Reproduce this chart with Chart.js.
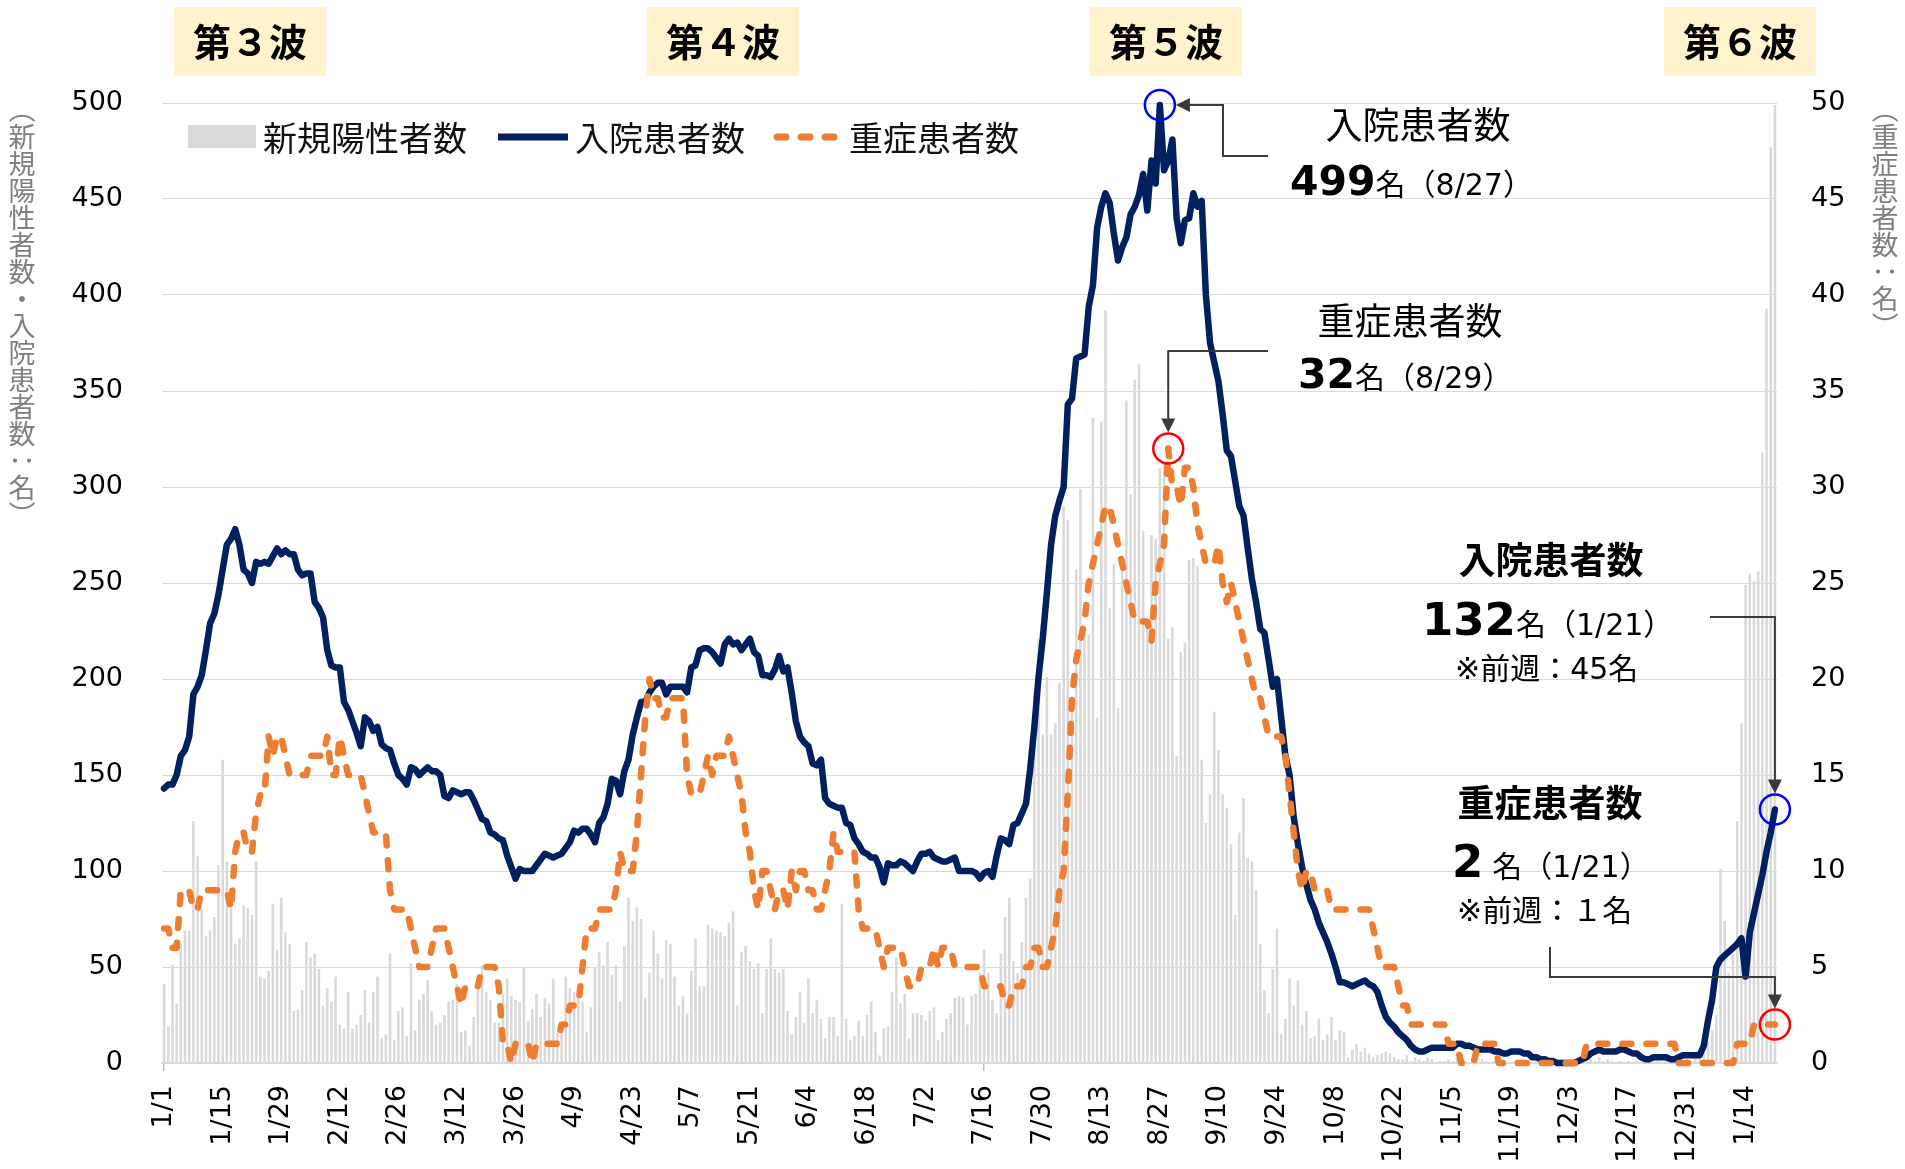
<!DOCTYPE html>
<html lang="ja">
<head>
<meta charset="utf-8">
<title>新規陽性者数・入院患者数・重症患者数</title>
<script src="https://cdn.jsdelivr.net/npm/chart.js@4.4.1/dist/chart.umd.min.js"></script>
<style>
  html, body { margin: 0; padding: 0; background: #fff; }
  #wrap { width: 1905px; height: 1169px; }
</style>
</head>
<body>
<div id="wrap"><canvas id="chart" width="1905" height="1169"></canvas></div>
<script>
// ---------------------------------
//  Datos (1 valor por día, desde 2021/1/1 hasta 2022/1/21)
// ---------------------------------
const startYear = 2021;
const tickEvery = 14;

// 新規陽性者数 (barras, eje izquierdo)
const newPositive = [
  41, 19, 51, 31, 62, 69, 69, 126, 108, 81,
  66, 69, 76, 103, 158, 105, 81, 62, 65, 82,
  81, 77, 105, 45, 44, 48, 83, 59, 86, 68,
  62, 27, 28, 38, 63, 55, 57, 49, 30, 39,
  32, 45, 20, 18, 37, 18, 20, 25, 38, 21,
  37, 45, 13, 15, 57, 12, 27, 29, 14, 52,
  17, 33, 36, 43, 27, 20, 21, 25, 32, 33,
  41, 16, 17, 9, 24, 42, 51, 37, 33, 21,
  21, 36, 44, 35, 33, 32, 50, 22, 28, 36,
  24, 34, 31, 44, 16, 18, 45, 39, 37, 38,
  32, 16, 29, 50, 58, 51, 63, 46, 51, 32,
  61, 86, 74, 81, 75, 34, 47, 69, 57, 44,
  64, 62, 45, 30, 35, 26, 48, 65, 40, 40,
  72, 70, 69, 68, 66, 73, 79, 30, 58, 61,
  53, 49, 52, 26, 49, 65, 49, 47, 49, 27,
  15, 24, 37, 21, 44, 26, 33, 23, 13, 24,
  24, 14, 83, 23, 12, 14, 22, 14, 25, 32,
  16, 4, 18, 19, 37, 55, 31, 36, 13, 26,
  26, 25, 22, 27, 29, 12, 16, 23, 26, 34,
  35, 34, 20, 35, 36, 47, 59, 47, 33, 26,
  57, 76, 86, 53, 47, 63, 86, 96, 193, 221,
  171, 201, 171, 177, 198, 290, 283, 184, 257, 299,
  224, 223, 336, 180, 334, 392, 237, 260, 185, 260,
  345, 296, 356, 364, 277, 231, 275, 273, 310, 313,
  221, 227, 160, 214, 219, 262, 263, 259, 158, 125,
  140, 183, 163, 140, 133, 114, 77, 120, 138, 107,
  105, 90, 62, 38, 26, 49, 70, 15, 23, 44,
  30, 43, 20, 27, 13, 14, 23, 12, 15, 24,
  12, 17, 16, 3, 7, 10, 6, 8, 5, 3,
  4, 5, 6, 5, 3, 2, 2, 4, 1, 3,
  2, 1, 3, 2, 0, 1, 1, 2, 1, 3,
  2, 1, 0, 1, 0, 2, 1, 0, 1, 0,
  1, 0, 0, 1, 0, 1, 0, 0, 1, 0,
  0, 0, 1, 0, 0, 0, 0, 1, 0, 0,
  1, 2, 1, 3, 1, 2, 1, 0, 1, 0,
  1, 0, 1, 0, 2, 1, 0, 1, 0, 1,
  0, 1, 1, 0, 2, 1, 3, 4, 8, 11,
  17, 25, 101, 74, 47, 57, 126, 177, 249, 255,
  251, 256, 318, 393, 477, 499
];

// 入院患者数 (línea azul, eje izquierdo)
const hospitalized = [
  143, 145, 145, 150, 160, 163, 170, 192, 196, 202,
  215, 229, 234, 244, 257, 270, 273, 278, 270, 257,
  255, 250, 261, 260, 261, 260, 264, 268, 265, 267,
  265, 265, 257, 254, 255, 255, 240, 237, 232, 215,
  207, 206, 206, 188, 184, 178, 172, 165, 180, 178,
  173, 175, 166, 164, 163, 156, 150, 148, 145, 154,
  153, 150, 152, 154, 152, 152, 150, 139, 138, 142,
  141, 140, 141, 141, 137, 132, 127, 126, 120, 119,
  117, 116, 108, 102, 96, 101, 100, 100, 100, 103,
  106, 109, 108, 107, 108, 109, 112, 115, 121, 120,
  122, 122, 119, 115, 125, 128, 135, 148, 147, 140,
  152, 158, 171, 180, 188, 188, 193, 196, 198, 198,
  192, 196, 196, 196, 196, 193, 206, 207, 215, 216,
  216, 214, 211, 208, 218, 221, 218, 219, 215, 218,
  221, 214, 212, 202, 202, 201, 205, 212, 204, 206,
  193, 178, 170, 167, 165, 156, 155, 158, 138, 135,
  134, 133, 133, 125, 124, 117, 114, 110, 109, 107,
  107, 102, 94, 104, 103, 103, 105, 104, 102, 100,
  105, 109, 109, 110, 107, 106, 105, 105, 106, 107,
  100, 100, 100, 100, 99, 96, 99, 100, 97, 108,
  117, 116, 114, 124, 125, 130, 135, 153, 175, 201,
  221, 245, 270, 285, 293, 300, 343, 346, 367, 368,
  369, 394, 405, 435, 446, 453, 448, 432, 418, 425,
  430, 442, 446, 452, 463, 444, 470, 458, 499, 465,
  470, 481, 440, 427, 439, 440, 453, 446, 449, 400,
  375, 365, 355, 338, 319, 316, 303, 290, 285, 268,
  252, 240, 226, 224, 210, 196, 200, 180, 160, 150,
  128, 114, 102, 93, 85, 80, 73, 68, 63, 57,
  50, 42, 42, 41, 40, 41, 42, 43, 41, 40,
  37, 30, 24, 21, 19, 16, 14, 12, 9, 7,
  6, 6, 7, 8, 8, 8, 8, 8, 8, 10,
  10, 9, 9, 8, 7, 7, 7, 7, 6, 6,
  5, 5, 6, 6, 6, 5, 5, 3, 3, 2,
  2, 1, 1, 0, 0, 0, 0, 0, 1, 2,
  3, 5, 6, 7, 6, 6, 6, 6, 7, 7,
  6, 5, 5, 3, 2, 2, 3, 3, 3, 3,
  2, 2, 3, 4, 4, 4, 4, 4, 9, 22,
  33, 50, 54, 56, 58, 60, 62, 65, 45, 68,
  78, 88, 98, 110, 120, 132
];

// 重症患者数 (línea naranja punteada, eje derecho)
const severe = [
  7, 7, 6, 6, 9, 9, 9, 8, 8, 9,
  9, 9, 9, 9, 9, 9, 8, 11, 12, 12,
  11, 11, 13, 14, 14, 17, 16, 17, 17, 16,
  15, 15, 15, 15, 15, 16, 16, 16, 16, 17,
  15, 15, 17, 16, 15, 15, 15, 15, 14, 13,
  12, 12, 12, 12, 9, 8, 8, 8, 8, 7,
  6, 5, 5, 5, 6, 7, 7, 7, 6, 5,
  4, 3, 4, 4, 4, 4, 5, 5, 5, 5,
  4, 1, 1, 0, 1, 1, 1, 1, 0, 1,
  1, 1, 1, 1, 1, 2, 2, 3, 3, 3,
  5, 7, 7, 7, 8, 8, 8, 8, 9, 11,
  10, 10, 10, 12, 15, 18, 20, 19, 19, 18,
  18, 19, 19, 19, 19, 15, 14, 14, 14, 15,
  16, 15, 16, 16, 16, 17, 16, 15, 14, 12,
  11, 9, 8, 10, 10, 9, 8, 9, 9, 8,
  10, 9, 10, 10, 9, 9, 8, 8, 9, 10,
  12, 11, 11, 11, 11, 11, 8, 7, 7, 7,
  7, 6, 5, 6, 6, 6, 6, 5, 4, 4,
  4, 5, 5, 5, 6, 5, 6, 6, 6, 5,
  5, 5, 5, 5, 5, 5, 4, 4, 4, 4,
  4, 3, 3, 4, 4, 4, 5, 5, 6, 6,
  5, 5, 6, 7, 9, 10, 14, 19, 21, 22,
  23, 25, 26, 27, 28, 29, 29, 28, 27, 26,
  25, 24, 23, 23, 23, 23, 22, 25, 26, 27,
  32, 30, 30, 29, 31, 31, 30, 28, 27, 26,
  26, 26, 27, 25, 24, 25, 24, 23, 22, 21,
  20, 19, 19, 18, 17, 17, 17, 17, 16, 14,
  12, 10, 9, 10, 10, 9, 9, 9, 9, 8,
  8, 8, 8, 8, 8, 8, 8, 8, 8, 7,
  6, 5, 5, 5, 5, 4, 3, 3, 2, 2,
  2, 2, 2, 2, 2, 2, 2, 1, 1, 1,
  0, 0, 0, 0, 1, 1, 1, 1, 1, 0,
  0, 0, 0, 0, 0, 0, 0, 0, 0, 0,
  0, 0, 0, 0, 0, 0, 0, 0, 0, 0,
  1, 1, 1, 1, 1, 1, 1, 1, 1, 1,
  1, 1, 1, 1, 1, 1, 1, 1, 1, 1,
  1, 1, 0, 0, 0, 0, 0, 0, 0, 0,
  0, 0, 0, 0, 0, 0, 1, 1, 1, 1,
  2, 2, 2, 2, 2, 2
];

const prevWeekHosp = 45;   // 1/14
const prevWeekSevere = 1;  // 1/14

const waveLabels = ['第３波', '第４波', '第５波', '第６波'];
const legendLabels = ['新規陽性者数', '入院患者数', '重症患者数'];
const leftTitle = '（新規陽性者数・入院患者数：名）';
const rightTitle = '（重症患者数：名）';

// Etiquetas de fecha M/D
const dayLabels = newPositive.map((_, i) => {
  const d = new Date(startYear, 0, 1 + i);
  return (d.getMonth() + 1) + '/' + d.getDate();
});

// ---------------------------------
//  Estilos
// ---------------------------------
const LATIN = "'DejaVu Sans', 'Noto Sans CJK JP', sans-serif";
const JP = "'Noto Sans CJK JP', sans-serif";
const NAVY = '#002060';
const ORANGE = '#ED7D31';
const GREY_BAR = '#d9d9d9';
const LINE_DARK = '#3a3a3a';

function drawRuns(ctx, runs, x, baseline) {
  ctx.textAlign = 'left';
  ctx.textBaseline = 'alphabetic';
  runs.forEach(r => {
    ctx.font = r.font;
    ctx.fillText(r.text, x, baseline);
    x += ctx.measureText(r.text).width + (r.gap || 0);
  });
}

function drawVertical(ctx, text, cx, top, size, color) {
  ctx.font = size + 'px ' + JP;
  ctx.fillStyle = color;
  ctx.textAlign = 'center';
  ctx.textBaseline = 'middle';
  let yy = top;
  for (const ch of text) {
    const cy = yy + size / 2;
    if ('（）：'.includes(ch)) {
      ctx.save();
      ctx.translate(cx, cy);
      ctx.rotate(Math.PI / 2);
      ctx.fillText(ch, 0, 0);
      ctx.restore();
    } else {
      ctx.fillText(ch, cx, cy);
    }
    yy += size;
  }
}

function arrowHead(ctx, tx, ty, dir) {
  const L = 14, W = 7;
  ctx.beginPath();
  ctx.moveTo(tx, ty);
  if (dir === 'left') {
    ctx.lineTo(tx + L, ty - W);
    ctx.lineTo(tx + L, ty + W);
  } else {
    ctx.lineTo(tx - W, ty - L);
    ctx.lineTo(tx + W, ty - L);
  }
  ctx.closePath();
  ctx.fill();
}

function polyline(ctx, pts) {
  ctx.beginPath();
  ctx.moveTo(pts[0][0], pts[0][1]);
  pts.slice(1).forEach(p => ctx.lineTo(p[0], p[1]));
  ctx.stroke();
}

function circle(ctx, cx, cy, r, color) {
  ctx.strokeStyle = color;
  ctx.lineWidth = 2.5;
  ctx.beginPath();
  ctx.arc(cx, cy, r, 0, Math.PI * 2);
  ctx.stroke();
}

// ---------------------------------
//  Plugin: cajas de ola, leyenda, títulos y anotaciones
// ---------------------------------
const overlay = {
  id: 'overlay',
  afterDraw(chart) {
    const ctx = chart.ctx;
    const xs = chart.scales.x, ys = chart.scales.y, ys1 = chart.scales.y1;
    ctx.save();

    // Cajas "第n波"
    const boxLeft = [174, 647, 1090, 1664];
    waveLabels.forEach((t, k) => {
      ctx.fillStyle = '#fff2cc';
      ctx.fillRect(boxLeft[k], 7, 152, 69);
      ctx.fillStyle = '#000';
      ctx.font = 'bold 38px ' + JP;
      ctx.textAlign = 'center';
      ctx.textBaseline = 'middle';
      ctx.fillText(t, boxLeft[k] + 76, 42);
    });

    // Leyenda
    ctx.fillStyle = GREY_BAR;
    ctx.fillRect(188, 125, 68, 23);
    ctx.lineCap = 'butt';
    ctx.strokeStyle = NAVY;
    ctx.lineWidth = 7;
    polyline(ctx, [[498, 137], [568, 137]]);
    ctx.strokeStyle = ORANGE;
    ctx.lineCap = 'round';
    ctx.setLineDash([9, 15]);
    polyline(ctx, [[777, 137], [842, 137]]);
    ctx.setLineDash([]);
    ctx.fillStyle = '#111';
    ctx.font = '34px ' + JP;
    ctx.textAlign = 'left';
    ctx.textBaseline = 'middle';
    ctx.fillText(legendLabels[0], 263, 138);
    ctx.fillText(legendLabels[1], 575, 138);
    ctx.fillText(legendLabels[2], 849, 138);

    // Títulos de ejes (vertical)
    drawVertical(ctx, leftTitle, 22, 96, 27, '#7f7f7f');
    drawVertical(ctx, rightTitle, 1885, 96, 27, '#7f7f7f');

    // Puntos anotados
    const iH = hospitalized.indexOf(Math.max(...hospitalized));
    const iS = severe.indexOf(Math.max(...severe));
    const iL = hospitalized.length - 1;
    const r = 15;
    const pH = [xs.getPixelForValue(iH), ys.getPixelForValue(hospitalized[iH])];
    const pS = [xs.getPixelForValue(iS), ys1.getPixelForValue(severe[iS])];
    const pL = [xs.getPixelForValue(iL), ys.getPixelForValue(hospitalized[iL])];
    const pLS = [xs.getPixelForValue(iL), ys1.getPixelForValue(severe[iL])];

    circle(ctx, pH[0], pH[1], r, '#0000ff');
    circle(ctx, pS[0], pS[1], r, '#ff0000');
    circle(ctx, pL[0], pL[1], r, '#0000ff');
    circle(ctx, pLS[0], pLS[1], r, '#ff0000');

    // Conectores
    ctx.strokeStyle = LINE_DARK;
    ctx.fillStyle = LINE_DARK;
    ctx.lineWidth = 2;
    ctx.lineCap = 'butt';
    polyline(ctx, [[1268, 156], [1223, 156], [1223, pH[1]], [pH[0] + r + 12, pH[1]]]);
    arrowHead(ctx, pH[0] + r + 1, pH[1], 'left');
    polyline(ctx, [[1268, 351], [pS[0], 351], [pS[0], pS[1] - r - 12]]);
    arrowHead(ctx, pS[0], pS[1] - r - 1, 'down');
    polyline(ctx, [[1710, 617], [pL[0], 617], [pL[0], pL[1] - r - 12]]);
    arrowHead(ctx, pL[0], pL[1] - r - 1, 'down');
    polyline(ctx, [[1550, 947], [1550, 977], [pLS[0], 977], [pLS[0], pLS[1] - r - 12]]);
    arrowHead(ctx, pLS[0], pLS[1] - r - 1, 'down');

    // Textos de anotación
    ctx.fillStyle = '#000';
    ctx.font = '37px ' + JP;
    ctx.textAlign = 'center';
    ctx.textBaseline = 'middle';
    ctx.fillText('入院患者数', 1418, 125);
    ctx.fillText('重症患者数', 1410, 321);
    drawRuns(ctx, [
      { text: String(hospitalized[iH]), font: 'bold 41px ' + LATIN },
      { text: '名（' + dayLabels[iH] + '）', font: '30px ' + LATIN }
    ], 1290, 195);
    drawRuns(ctx, [
      { text: String(severe[iS]), font: 'bold 41px ' + LATIN },
      { text: '名（' + dayLabels[iS] + '）', font: '30px ' + LATIN }
    ], 1298, 388);

    ctx.font = 'bold 37px ' + JP;
    ctx.textAlign = 'center';
    ctx.textBaseline = 'middle';
    ctx.fillText('入院患者数', 1551, 560);
    ctx.fillText('重症患者数', 1550, 803);
    drawRuns(ctx, [
      { text: String(hospitalized[iL]), font: 'bold 45px ' + LATIN },
      { text: '名（' + dayLabels[iL] + '）', font: '30px ' + LATIN }
    ], 1422, 635);
    drawRuns(ctx, [
      { text: String(severe[iL]), font: 'bold 45px ' + LATIN, gap: 9 },
      { text: '名（' + dayLabels[iL] + '）', font: '30px ' + LATIN }
    ], 1452, 877);
    ctx.font = '30px ' + LATIN;
    ctx.textAlign = 'left';
    ctx.textBaseline = 'middle';
    ctx.fillText('※前週：' + prevWeekHosp + '名', 1455, 671);
    ctx.fillText('※前週：' + String.fromCharCode(0xFF10 + prevWeekSevere) + '名', 1457, 913);

    ctx.restore();
  }
};

// ---------------------------------
//  Gráfico
// ---------------------------------
const tickFont = { family: LATIN, size: 27 };

new Chart(document.getElementById('chart'), {
  type: 'bar',
  data: {
    labels: dayLabels,
    datasets: [
      {
        type: 'line',
        label: legendLabels[2],
        data: severe,
        yAxisID: 'y1',
        borderColor: ORANGE,
        borderWidth: 6.5,
        borderDash: [9, 15],
        borderCapStyle: 'round',
        borderJoinStyle: 'round',
        pointRadius: 0,
        tension: 0,
        clip: false,
        order: 1
      },
      {
        type: 'line',
        label: legendLabels[1],
        data: hospitalized,
        yAxisID: 'y',
        borderColor: NAVY,
        borderWidth: 6.5,
        borderJoinStyle: 'round',
        borderCapStyle: 'round',
        pointRadius: 0,
        tension: 0,
        clip: false,
        order: 2
      },
      {
        type: 'bar',
        label: legendLabels[0],
        data: newPositive,
        yAxisID: 'y',
        backgroundColor: GREY_BAR,
        barPercentage: 0.62,
        categoryPercentage: 1,
        order: 3
      }
    ]
  },
  options: {
    responsive: false,
    devicePixelRatio: 1,
    animation: false,
    layout: { padding: { top: 103, left: 0, right: 0, bottom: 0 } },
    plugins: {
      legend: { display: false },
      tooltip: { enabled: false }
    },
    scales: {
      x: {
        type: 'category',
        offset: true,
        grid: {
          offset: false,
          drawOnChartArea: false,
          drawTicks: true,
          tickLength: 8,
          lineWidth: 1.5,
          color: c => (c.index % tickEvery === 0 ? '#bfbfbf' : 'rgba(0,0,0,0)'),
          tickColor: c => (c.index % tickEvery === 0 ? '#bfbfbf' : 'rgba(0,0,0,0)')
        },
        border: { display: true, color: '#d9d9d9', width: 2 },
        ticks: {
          autoSkip: false,
          maxRotation: 90,
          minRotation: 90,
          padding: 14,
          color: '#000',
          font: tickFont,
          callback: (v, i) => (i % tickEvery === 0 ? dayLabels[i] : null)
        },
        afterFit: s => { s.height = 106; }
      },
      y: {
        position: 'left',
        min: 0,
        max: 500,
        grid: { color: '#d9d9d9', lineWidth: 1, drawTicks: false },
        border: { display: false },
        ticks: { stepSize: 50, padding: 39, color: '#000', font: tickFont },
        afterFit: s => { s.width = 162; }
      },
      y1: {
        position: 'right',
        min: 0,
        max: 50,
        grid: { drawOnChartArea: false, drawTicks: false },
        border: { display: false },
        ticks: { stepSize: 5, padding: 34, color: '#000', font: tickFont },
        afterFit: s => { s.width = 128; }
      }
    }
  },
  plugins: [overlay]
});
</script>
</body>
</html>
